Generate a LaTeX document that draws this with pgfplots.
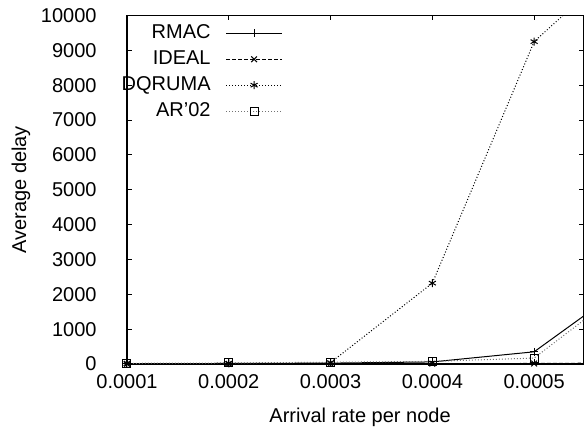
\documentclass[border=0pt]{standalone}
\usepackage{fontspec}
\setmainfont{Liberation Sans}
\usepackage{pgfplots}
\pgfplotsset{compat=1.18}
\begin{document}
\begin{tikzpicture}
\begin{axis}[
  name=ax,
  scale only axis,
  width=228.5pt, height=174.25pt,
  xmin=0.0001, xmax=0.000549,
  ymin=0, ymax=10000,
  xtick={0.0001,0.0002,0.0003,0.0004,0.0005},
  xticklabels={0.0001,0.0002,0.0003,0.0004,0.0005},
  ytick={0,1000,2000,3000,4000,5000,6000,7000,8000,9000,10000},
  /pgf/number format/assume math mode=true,
  /pgf/number format/1000 sep={},
  scaled x ticks=false, scaled y ticks=false,
  tick align=inside,
  major tick length=2.5pt,
  axis line style={line width=0.6pt},
  every tick/.style={black, line width=0.5pt},
  xticklabel style={yshift=-1.7pt},
  yticklabel style={xshift=-11.7pt},
  xlabel={Arrival rate per node},
  ylabel={Average delay},
  xlabel style={at={(axis description cs:0.51,-0.152)}, anchor=center},
  ylabel style={at={(axis description cs:-0.232,0.5)}, anchor=center},
  legend cell align=right,
  legend plot pos=right,
  legend style={draw=none, fill=none, at={(axis description cs:0.3545,0.997)}, anchor=north east, row sep=0.5pt},
  legend image code/.code={\path (0pt,0pt); \draw[mark repeat=2,mark phase=2,#1] plot coordinates {(5.5pt,0pt) (19.5pt,0pt) (33.5pt,0pt)};},
  every axis plot/.append style={line width=0.5pt, mark size=2pt, mark options={solid}},
]
\addplot[black, solid, mark=+] coordinates {
 (0.0001,10) (0.0002,15) (0.0003,25) (0.0004,60) (0.0005,350) (0.0006,2460)};
\addlegendentry{RMAC}
\addplot[black, dash pattern=on 2pt off 1pt, mark=x] coordinates {
 (0.0001,5) (0.0002,5) (0.0003,8) (0.0004,10) (0.0005,15) (0.0006,30)};
\addlegendentry{IDEAL}
\addplot[black, densely dotted, mark=asterisk] coordinates {
 (0.0001,10) (0.0002,15) (0.0003,40) (0.0004,2320) (0.0005,9250) (0.0006,11900)};
\addlegendentry{DQRUMA}
\addplot[black!55, densely dotted, mark=square, mark options={black,solid}] coordinates {
 (0.0001,20) (0.0002,30) (0.0003,50) (0.0004,75) (0.0005,170) (0.0006,2400)};
\addlegendentry{AR'02}
\end{axis}
\pgfresetboundingbox
\path[use as bounding box] ([shift={(-63.5pt,-32pt)}]ax.south west) rectangle ([shift={(0pt,7.75pt)}]ax.north east);
\end{tikzpicture}
\end{document}
